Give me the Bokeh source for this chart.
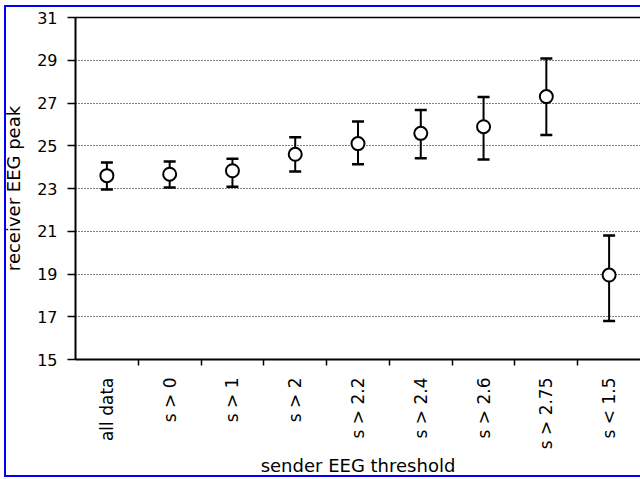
from bokeh.plotting import figure
from bokeh.models import ColumnDataSource, Range1d, FixedTicker, Whisker, TeeHead, LinearAxis
from bokeh.embed import file_html
from bokeh.resources import INLINE

# ---- data ----
categories = ["all data", "s > 0", "s > 1", "s > 2", "s > 2.2",
              "s > 2.4", "s > 2.6", "s > 2.75", "s < 1.5"]
peak_mean = [23.6, 23.67, 23.83, 24.6, 25.1, 25.58, 25.89, 27.3, 18.95]
peak_upper = [24.22, 24.26, 24.39, 25.4, 26.13, 26.67, 27.28, 29.08, 20.8]
peak_lower = [22.95, 23.05, 23.08, 23.8, 24.14, 24.42, 24.36, 25.5, 16.8]
y_ticks = [15, 17, 19, 21, 23, 25, 27, 29, 31]

idx = list(range(len(categories)))
source = ColumnDataSource(data=dict(x=idx, mean=peak_mean,
                                    upper=peak_upper, lower=peak_lower))

FONT = "DejaVu Sans"

p = figure(width=640, height=479, output_backend="svg", toolbar_location=None,
           x_range=Range1d(-0.5, len(categories) - 0.5),
           y_range=Range1d(y_ticks[0], y_ticks[-1]),
           min_border_left=75, min_border_right=0, min_border_top=17,
           min_border_bottom=112)

p.background_fill_color = "white"
# transparent border area so the page-level blue frame (below) shows through
p.border_fill_color = None
p.styles = {
    "background-color": "#ffffff",
    "box-shadow": ("inset 4px 0 0 0 #ffffff, inset 0 5px 0 0 #ffffff, "
                   "inset 0 -2px 0 0 #ffffff, "
                   "inset 6px 0 0 0 #0000ff, inset 0 7px 0 0 #0000ff, "
                   "inset 0 -4px 0 0 #0000ff"),
}
p.outline_line_color = None

# top frame line (no ticks, no labels)
top_axis = LinearAxis(ticker=FixedTicker(ticks=[]), axis_line_color="black",
                      axis_line_width=1.5, major_tick_line_color=None,
                      minor_tick_line_color=None, major_label_text_font_size="0px")
p.add_layout(top_axis, "above")

# grid
p.xgrid.grid_line_color = None
p.ygrid.grid_line_color = "black"
p.ygrid.grid_line_dash = "1 2"
p.ygrid.grid_line_width = 1

# y axis
p.yaxis.ticker = FixedTicker(ticks=y_ticks)
p.yaxis.axis_label = "receiver EEG peak"
p.yaxis.axis_label_text_font = FONT
p.yaxis.axis_label_text_font_size = "18px"
p.yaxis.axis_label_text_font_style = "normal"
p.yaxis.axis_label_text_color = "black"
p.yaxis.axis_label_standoff = 10
p.yaxis.major_label_text_font = FONT
p.yaxis.major_label_text_font_size = "16px"
p.yaxis.major_label_text_color = "black"
p.yaxis.major_label_standoff = 10
p.yaxis.major_tick_out = 8
p.yaxis.major_tick_in = 0
p.yaxis.minor_tick_line_color = None
p.yaxis.axis_line_color = "black"
p.yaxis.axis_line_width = 2
p.yaxis.major_tick_line_color = "black"
p.yaxis.major_tick_line_width = 1.5

# x axis: labels at category centres, tick marks at category boundaries
xaxis = p.below[0]
xaxis.ticker = FixedTicker(ticks=idx, minor_ticks=[i + 0.5 for i in idx[:-1]])
xaxis.major_label_overrides = {i: c for i, c in zip(idx, categories)}
xaxis.major_label_orientation = 1.5707963
xaxis.major_label_text_font = FONT
xaxis.major_label_text_font_size = "17px"
xaxis.major_label_text_color = "black"
xaxis.major_label_standoff = 12
xaxis.major_tick_line_color = None
xaxis.major_tick_out = 0
xaxis.major_tick_in = 0
xaxis.minor_tick_line_color = "black"
xaxis.minor_tick_line_width = 1.5
xaxis.minor_tick_out = 6
xaxis.minor_tick_in = 0
xaxis.axis_line_color = "black"
xaxis.axis_line_width = 2
xaxis.axis_label = "sender EEG threshold"
xaxis.axis_label_text_font = FONT
xaxis.axis_label_text_font_size = "18px"
xaxis.axis_label_text_font_style = "normal"
xaxis.axis_label_text_color = "black"
xaxis.axis_label_standoff = 3

# error bars
whisker = Whisker(source=source, base="x", upper="upper", lower="lower",
                  line_color="black", line_width=2,
                  upper_head=TeeHead(size=12, line_color="black", line_width=2.5),
                  lower_head=TeeHead(size=12, line_color="black", line_width=2.5))
p.add_layout(whisker)

# means
p.scatter("x", "mean", source=source, marker="circle", size=13,
          fill_color="white", line_color="black", line_width=2)

open("out.html", "w").write(file_html(p, INLINE))
